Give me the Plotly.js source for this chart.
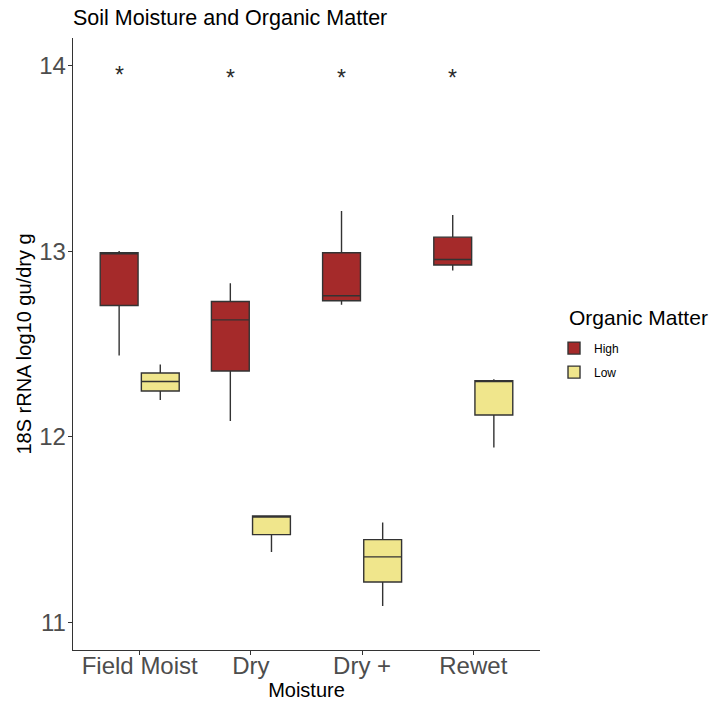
<!DOCTYPE html>
<html>
<head>
<meta charset="utf-8">
<script src="https://cdn.plot.ly/plotly-3.0.1.min.js"></script>
<style>
  html, body { margin: 0; padding: 0; background: #fff; }
  #chart { width: 710px; height: 706px; }
</style>
</head>
<body>
<div id="chart"></div>
<script>
// Moisture treatments on the x axis
const moisture = ["Field Moist", "Dry", "Dry +", "Rewet"];

// Five-number summaries, High organic matter
const highLower  = [12.438, 12.086, 12.711, 12.896];
const highQ1     = [12.707, 12.355, 12.733, 12.925];
const highMedian = [12.986, 12.630, 12.760, 12.955];
const highQ3     = [12.992, 12.729, 12.991, 13.075];
const highUpper  = [13.000, 12.827, 13.216, 13.194];

// Five-number summaries, Low organic matter
const lowLower  = [12.199, 11.381, 11.090, 11.943];
const lowQ1     = [12.247, 11.474, 11.219, 12.118];
const lowMedian = [12.298, 11.570, 11.354, 12.301];
const lowQ3     = [12.344, 11.574, 11.447, 12.303];
const lowUpper  = [12.389, 11.574, 11.539, 12.310];

// Significance markers placed above each High box
const sigLabel = ["*", "*", "*", "*"];
const sigY     = [13.95, 13.93, 13.93, 13.93];

const FONT = "Liberation Sans, Arial, sans-serif";
const boxLine = { color: "#333333", width: 1.4 };

const traces = [
  {
    type: "box", name: "High", x: moisture,
    q1: highQ1, median: highMedian, q3: highQ3,
    lowerfence: highLower, upperfence: highUpper,
    fillcolor: "#A52A2A", line: boxLine, whiskerwidth: 0,
    offsetgroup: "High", legendgroup: "High", hoverinfo: "y"
  },
  {
    type: "box", name: "Low", x: moisture,
    q1: lowQ1, median: lowMedian, q3: lowQ3,
    lowerfence: lowLower, upperfence: lowUpper,
    fillcolor: "#F0E68C", line: boxLine, whiskerwidth: 0,
    offsetgroup: "Low", legendgroup: "Low", hoverinfo: "y"
  }
];

// dodge offset of the High box inside each category (in category units)
const dodge = 0.185;
const annotations = sigLabel.map((s, i) => ({
  x: i - dodge, y: sigY[i], xref: "x", yref: "y",
  text: s, showarrow: false,
  font: { family: FONT, size: 23, color: "#2b2b2b" }
}));

// legend heading, aligned with the legend keys
annotations.push({
  text: "Organic Matter", xref: "paper", yref: "paper",
  x: 1.058, y: 0.544, xanchor: "left", yanchor: "middle",
  showarrow: false, font: { family: FONT, size: 21, color: "#000000" }
});

const tickFont = { family: FONT, size: 24, color: "#4D4D4D" };
const titleFont = { family: FONT, size: 20, color: "#000000" };

const layout = {
  width: 710, height: 706,
  paper_bgcolor: "#ffffff", plot_bgcolor: "#ffffff",
  margin: { l: 73, r: 170, t: 38, b: 56 },
  title: {
    text: "Soil Moisture and Organic Matter",
    x: 0, xref: "paper", xanchor: "left", y: 0.975, yanchor: "middle",
    font: { family: FONT, size: 21.5, color: "#000000" }
  },
  boxmode: "group",
  boxgap: 0.26,
  boxgroupgap: 0.08,
  xaxis: {
    type: "category",
    categoryorder: "array", categoryarray: moisture,
    range: [-0.6, 3.6],
    showline: true, linecolor: "#333333", linewidth: 1.3,
    showgrid: false, zeroline: false,
    ticks: "outside", ticklen: 4, tickcolor: "#333333", tickwidth: 1,
    ticklabelstandoff: -10,
    tickfont: tickFont,
    title: { text: "Moisture", font: titleFont, standoff: 0 }
  },
  yaxis: {
    range: [10.853, 14.147],
    tickvals: [11, 12, 13, 14],
    ticktext: ["11", "12", "13", "14"],
    showline: true, linecolor: "#333333", linewidth: 1.3,
    showgrid: false, zeroline: false,
    ticks: "outside", ticklen: 4, tickcolor: "#333333", tickwidth: 1,
    ticklabelstandoff: -3,
    tickfont: tickFont,
    title: { text: "18S rRNA log10 gu/dry g", font: titleFont, standoff: 2 }
  },
  legend: {
    x: 1.03, xanchor: "left", y: 0.517, yanchor: "top",
    font: { family: FONT, size: 12, color: "#000000" },
    tracegroupgap: 5
  },
  annotations: annotations,
  showlegend: true
};

Plotly.newPlot("chart", traces, layout, { displayModeBar: false, staticPlot: true });
</script>
</body>
</html>
